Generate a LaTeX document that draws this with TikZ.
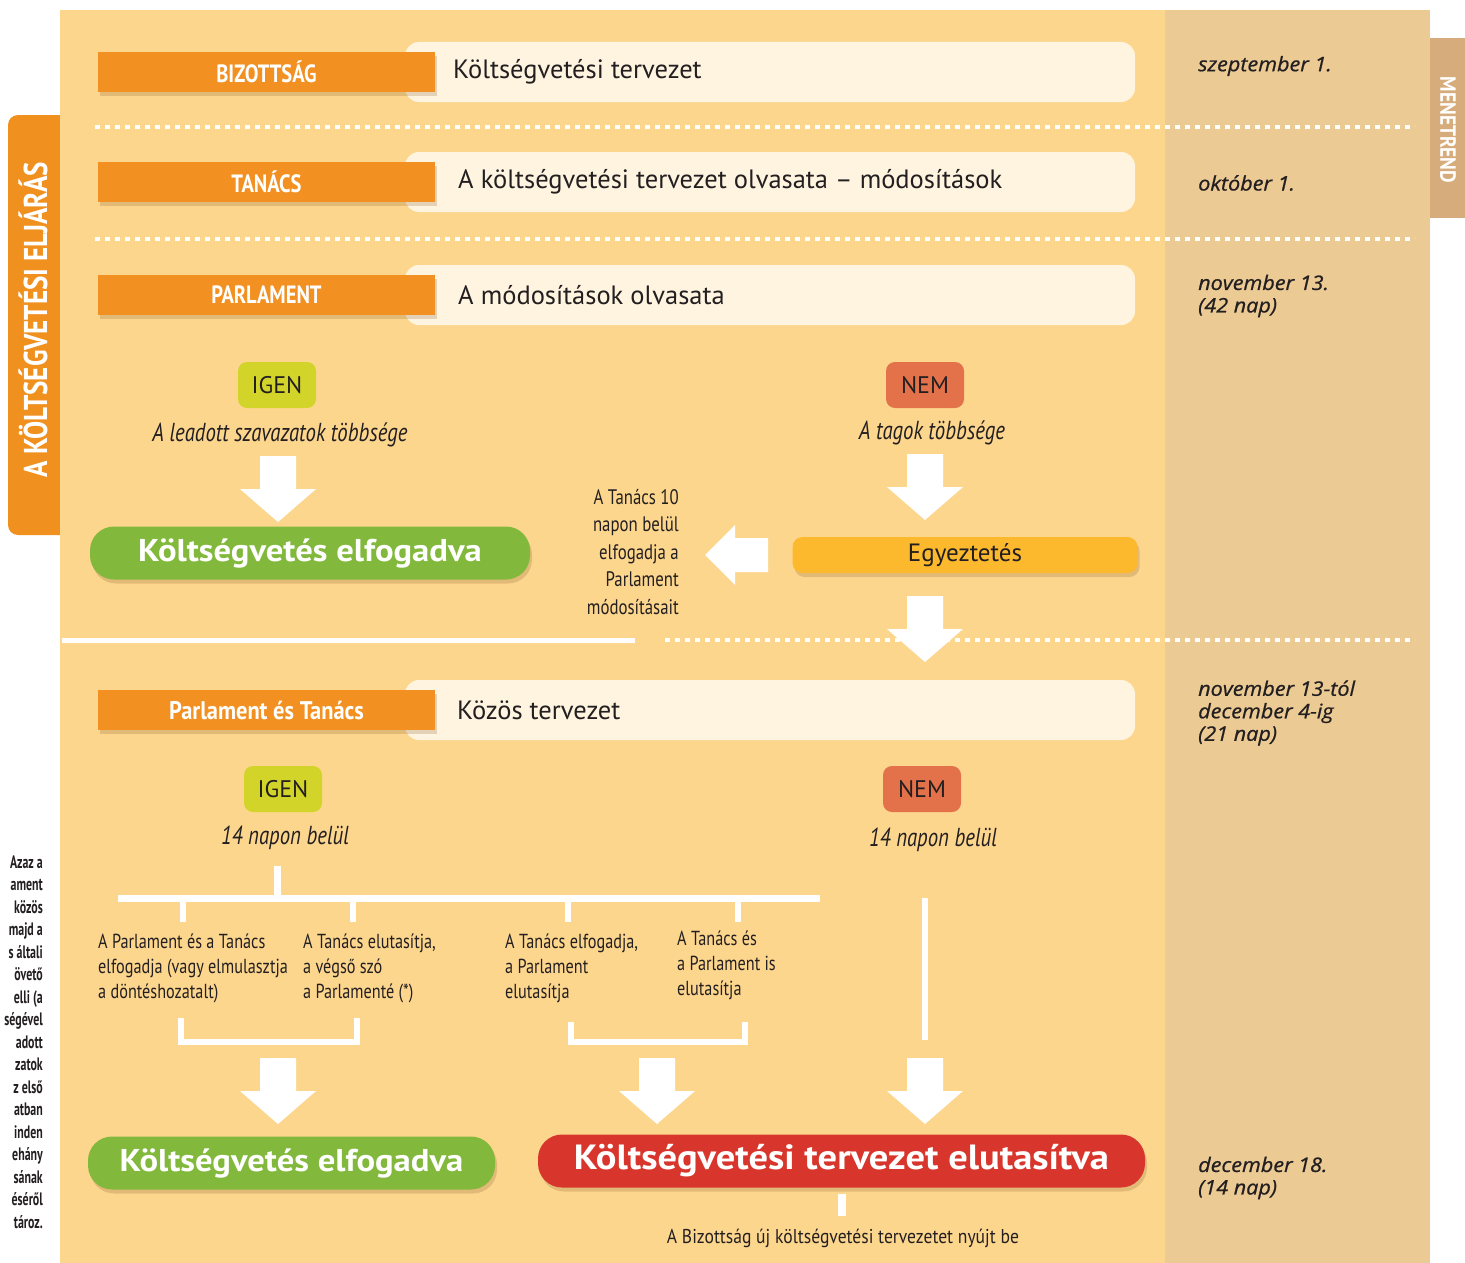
\documentclass[tikz,border=0pt]{standalone}
\usepackage{fontspec}
\setmainfont{PT Sans}
\newfontfamily\cond[FakeStretch=0.8]{PT Sans}
\newfontfamily\condn[FakeStretch=0.66]{PT Sans}
\newfontfamily\condb[FakeStretch=0.82]{PT Sans}
\newfontfamily\condw[FakeStretch=0.88]{PT Sans}
\newfontfamily\wide[FakeStretch=1.1]{PT Sans}
\newfontfamily\datefont[FakeBold=0.8,FakeStretch=1.08]{Open Sans}
\usetikzlibrary{shadows}
\definecolor{panel}{HTML}{FDD68E}
\definecolor{colr}{HTML}{EBCA94}
\definecolor{tabor}{HTML}{F0901E}
\definecolor{rtab}{HTML}{D6AC7C}
\definecolor{labor}{HTML}{F29122}
\definecolor{cream}{HTML}{FEF4E0}
\definecolor{igen}{HTML}{D2D42A}
\definecolor{nem}{HTML}{E3714A}
\definecolor{okgreen}{HTML}{82B93C}
\definecolor{nored}{HTML}{D8362C}
\definecolor{egy}{HTML}{FDB92E}
\definecolor{dark}{HTML}{231F20}
\begin{document}
\begin{tikzpicture}[x=1pt,y=-1pt,
  shad/.style={drop shadow={shadow xshift=2pt,shadow yshift=-4pt,opacity=0.22,fill=brown!70!black}},
  lab/.style={fill=labor,minimum width=337pt,minimum height=40pt,inner sep=0pt,text=white,
    font=\condb\bfseries\fontsize{25}{27}\selectfont,shad},
  bar/.style={fill=cream,rounded corners=14pt,minimum width=730pt,minimum height=60pt,inner sep=0pt},
  btxt/.style={anchor=west,text=dark,inner sep=0pt,font=\fontsize{26.5}{28}\selectfont},
  yes/.style={fill=igen,rounded corners=9pt,minimum width=78pt,minimum height=46pt,inner sep=0pt,
    text=dark,font=\fontsize{24}{26}\selectfont},
  no/.style={yes,fill=nem},
  ital/.style={text=dark,inner sep=0pt,font=\cond\itshape\fontsize{26}{28}\selectfont},
  pill/.style={rounded corners=24pt,minimum height=53pt,inner sep=0pt,text=white,
    font=\wide\bfseries\fontsize{31.5}{34}\selectfont,shad},
  branch/.style={anchor=west,align=left,text=dark,inner sep=0pt,font=\cond\fontsize{20.3}{25}\selectfont},
  date/.style={anchor=west,align=left,text=dark,inner sep=0pt,font=\datefont\itshape\fontsize{20}{22.5}\selectfont},
  dotline/.style={white,line width=4pt,dash pattern=on 5pt off 5pt},
  tree/.style={white,line width=7pt},
  darrow/.pic={\fill[white] (-18,0) -- (18,0) -- (18,33) -- (38,33) -- (0,66) -- (-38,33) -- (-18,33) -- cycle;},
  larrow/.pic={\fill[white] (0,-17) -- (-33,-17) -- (-33,-30) -- (-63,0) -- (-33,30) -- (-33,17) -- (0,17) -- cycle;}
]
\useasboundingbox (0,0) rectangle (1465,1263);
\fill[white] (0,0) rectangle (1465,1263);
% margin fragment of neighbouring page
\node[anchor=east,align=right,text=dark,inner sep=0pt,font=\condn\bfseries\fontsize{18}{22.5}\selectfont] (margin) at (43,1042)
  {Azaz a\\ament\\közös\\majd a\\s általi\\övető\\elli (a\\ségével\\adott\\zatok\\z első\\atban\\inden\\ehány\\sának\\éséről\\tároz.};
% left tab
\fill[tabor,rounded corners=10pt] (8,115) rectangle (75,535);
% panel
\fill[panel] (60,10) rectangle (1165,1263);
\fill[colr] (1165,10) rectangle (1430,1263);
\node[rotate=90,text=white,inner sep=0pt,font=\condb\bfseries\fontsize{33}{33}\selectfont] (tabtxt) at (33,320) {A KÖLTSÉGVETÉSI ELJÁRÁS};
% right tab
\fill[rtab] (1430,38) rectangle (1465,218);
\node[rotate=-90,text=white,inner sep=0pt,font=\condw\bfseries\fontsize{22}{22}\selectfont] (rtabtxt) at (1448,130) {MENETREND};
% separators
\draw[dotline] (95,127) -- (1415,127);
\draw[dotline] (95,239) -- (1415,239);
\draw[white,line width=5pt] (62,640) -- (635,640);
\draw[dotline] (665,640) -- (1415,640);
% rows
\node[bar] (bar1) at (770,72) {};
\node[lab] (lab1) at (266.5,72) {BIZOTTSÁG};
\node[btxt] (txt1) at (453,72) {Költségvetési tervezet};
\node[bar] (bar2) at (770,182) {};
\node[lab] (lab2) at (266.5,182) {TANÁCS};
\node[btxt] (txt2) at (458,182) {A költségvetési tervezet olvasata -- módosítások};
\node[bar] (bar3) at (770,295) {};
\node[lab] (lab3) at (266.5,295) {PARLAMENT};
\node[btxt] (txt3) at (458,295) {A módosítások olvasata};
\node[bar] (bar4) at (770,710) {};
\node[lab,font=\condw\bfseries\fontsize{25.5}{27}\selectfont] (lab4) at (266.5,710) {Parlament és Tanács};
\node[btxt] (txt4) at (457,710) {Közös tervezet};
% first vote
\node[yes] (yes1) at (277,385) {IGEN};
\node[no] (no1) at (925,385) {NEM};
\node[ital] (yestxt1) at (280,435) {A leadott szavazatok többsége};
\node[ital] (notxt1) at (932,433) {A tagok többsége};
\pic at (278,456) {darrow};
\pic at (925,454) {darrow};
\node[pill,fill=okgreen,minimum width=440pt] (ok1) at (310,553) {Költségvetés elfogadva};
\node[anchor=east,align=right,text=dark,inner sep=0pt,font=\cond\fontsize{21}{27.5}\selectfont] (council10) at (679,552)
  {A Tanács 10\\napon belül\\elfogadja a\\Parlament\\módosításait};
\pic at (768,555) {larrow};
\node[fill=egy,rounded corners=10pt,minimum width=345pt,minimum height=36pt,inner sep=0pt,text=dark,
  font=\fontsize{25}{27}\selectfont,shad] (egyez) at (965,555) {Egyeztetés};
\pic at (925,596) {darrow};
% second vote
\node[yes] (yes2) at (283,789) {IGEN};
\node[no] (no2) at (922,789) {NEM};
\node[ital] (yestxt2) at (285,838) {14 napon belül};
\node[ital] (notxt2) at (933,840) {14 napon belül};
% tree
\coordinate (j0) at (277,866);
\coordinate (j1) at (277,898);
\coordinate (hl) at (118,898);
\coordinate (hr) at (820,898);
\draw[tree] (j0) -- (j1);
\draw[tree] (hl) -- (hr);
\foreach \xx/\nm in {183/a,353/b,568/c,738/d}{
  \coordinate (t\nm) at (\xx,898);
  \coordinate (u\nm) at (\xx,922);
  \draw[white,line width=6pt] (t\nm) -- (u\nm);
}
\node[branch] (br1) at (98,968) {A Parlament és a Tanács\\elfogadja (vagy elmulasztja\\a döntéshozatalt)};
\node[branch] (br2) at (303,968) {A Tanács elutasítja,\\a végső szó\\a Parlamenté (*)};
\node[branch] (br3) at (505,968) {A Tanács elfogadja,\\a Parlament\\elutasítja};
\node[branch] (br4) at (677,965) {A Tanács és\\a Parlament is\\elutasítja};
\coordinate (k1) at (181,1018); \coordinate (k2) at (357,1018);
\coordinate (k3) at (571,1022); \coordinate (k4) at (745,1022);
\draw[white,line width=6pt] (k1) -- ++(0,24) -| (k2);
\draw[white,line width=6pt] (k3) -- ++(0,20) -| (k4);
\coordinate (n0) at (925,898); \coordinate (n1) at (925,1040);
\draw[white,line width=6pt] (n0) -- (n1);
\pic at (278,1058) {darrow};
\pic at (657,1058) {darrow};
\pic at (925,1058) {darrow};
\node[pill,fill=okgreen,minimum width=407pt] (ok2) at (291.5,1163) {Költségvetés elfogadva};
\node[pill,fill=nored,minimum width=607pt,font=\wide\bfseries\fontsize{35}{38}\selectfont] (rej) at (841.5,1161) {Költségvetési tervezet elutasítva};
\node[text=dark,inner sep=0pt,font=\condw\fontsize{20}{22}\selectfont] (newdraft) at (843,1238) {A Bizottság új költségvetési tervezetet nyújt be};
\coordinate (r0) at (842,1194); \coordinate (r1) at (842,1216);
\draw[white,line width=8pt] (r0) -- (r1);
% dates
\node[date] (d1) at (1198,66) {szeptember 1.};
\node[date] (d2) at (1198,183) {október 1.};
\node[date] (d3) at (1198,296) {november 13.\\(42 nap)};
\node[date] (d4) at (1198,713) {november 13-tól\\december 4-ig\\(21 nap)};
\node[date] (d5) at (1198,1178) {december 18.\\(14 nap)};
\end{tikzpicture}
\end{document}
